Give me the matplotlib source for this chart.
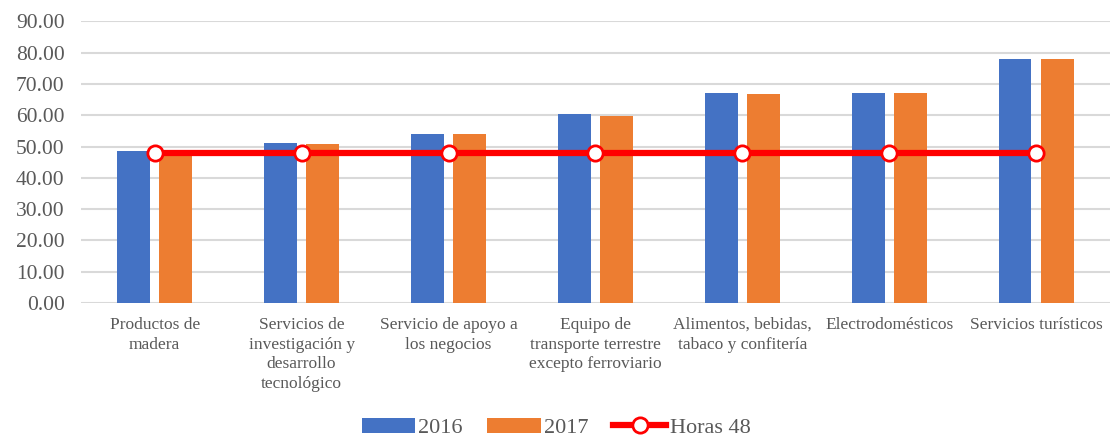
import numpy as np
import matplotlib.pyplot as plt

categorias = ["Productos de\nmadera",
              "Servicios de\ninvestigación y\ndesarrollo\ntecnológico",
              "Servicio de apoyo a\nlos negocios",
              "Equipo de\ntransporte terrestre\nexcepto ferroviario",
              "Alimentos, bebidas,\ntabaco y confitería",
              "Electrodomésticos",
              "Servicios turísticos"]
v2016 = [48.6, 51.3, 54.1, 60.3, 67.0, 67.2, 78.1]
v2017 = [47.8, 50.8, 53.9, 59.9, 66.8, 67.0, 77.9]
horas48 = [48, 48, 48, 48, 48, 48, 48]

plt.rcParams['font.family'] = ['Liberation Serif', 'DejaVu Serif']
gris = '#595959'

fig = plt.figure(figsize=(11.12, 4.47), dpi=100)
ax = fig.add_axes([0.073, 0.322, 0.925, 0.63])

x = np.arange(len(categorias))
w = 0.224
b1 = ax.bar(x - 0.145, v2016, w, color='#4472C4', label='2016', zorder=2)
b2 = ax.bar(x + 0.145, v2017, w, color='#ED7D31', label='2017', zorder=2)
ln, = ax.plot(x, horas48, color='#FF0000', lw=4.5, marker='o', ms=11,
              mfc='white', mec='#FF0000', mew=2, label='Horas 48', zorder=3)

ax.set_xlim(-0.5, len(categorias) - 0.5)
ax.set_ylim(0, 90)
ax.set_yticks(np.arange(0, 91, 10))
ax.set_yticklabels([f"{v:.2f}" for v in np.arange(0, 91, 10)], fontsize=15.5, color=gris)
ax.set_xticks(x)
ax.set_xticklabels(categorias, fontsize=12.5, color=gris, linespacing=1.3, va='top')
ax.tick_params(axis='both', length=0)
ax.tick_params(axis='x', pad=10)
ax.tick_params(axis='y', pad=12)
ax.grid(axis='y', color='#D9D9D9', lw=1.5, zorder=0)
for s in ax.spines.values():
    s.set_visible(False)

fig.legend([b1, b2, ln], ['2016', '2017', 'Horas 48'], loc='lower center',
           bbox_to_anchor=(0.5, -0.025), ncol=3, frameon=False,
           fontsize=16, labelcolor=gris, handlelength=2.4, handletextpad=0.15,
           columnspacing=1.1)

plt.savefig('out.png')
